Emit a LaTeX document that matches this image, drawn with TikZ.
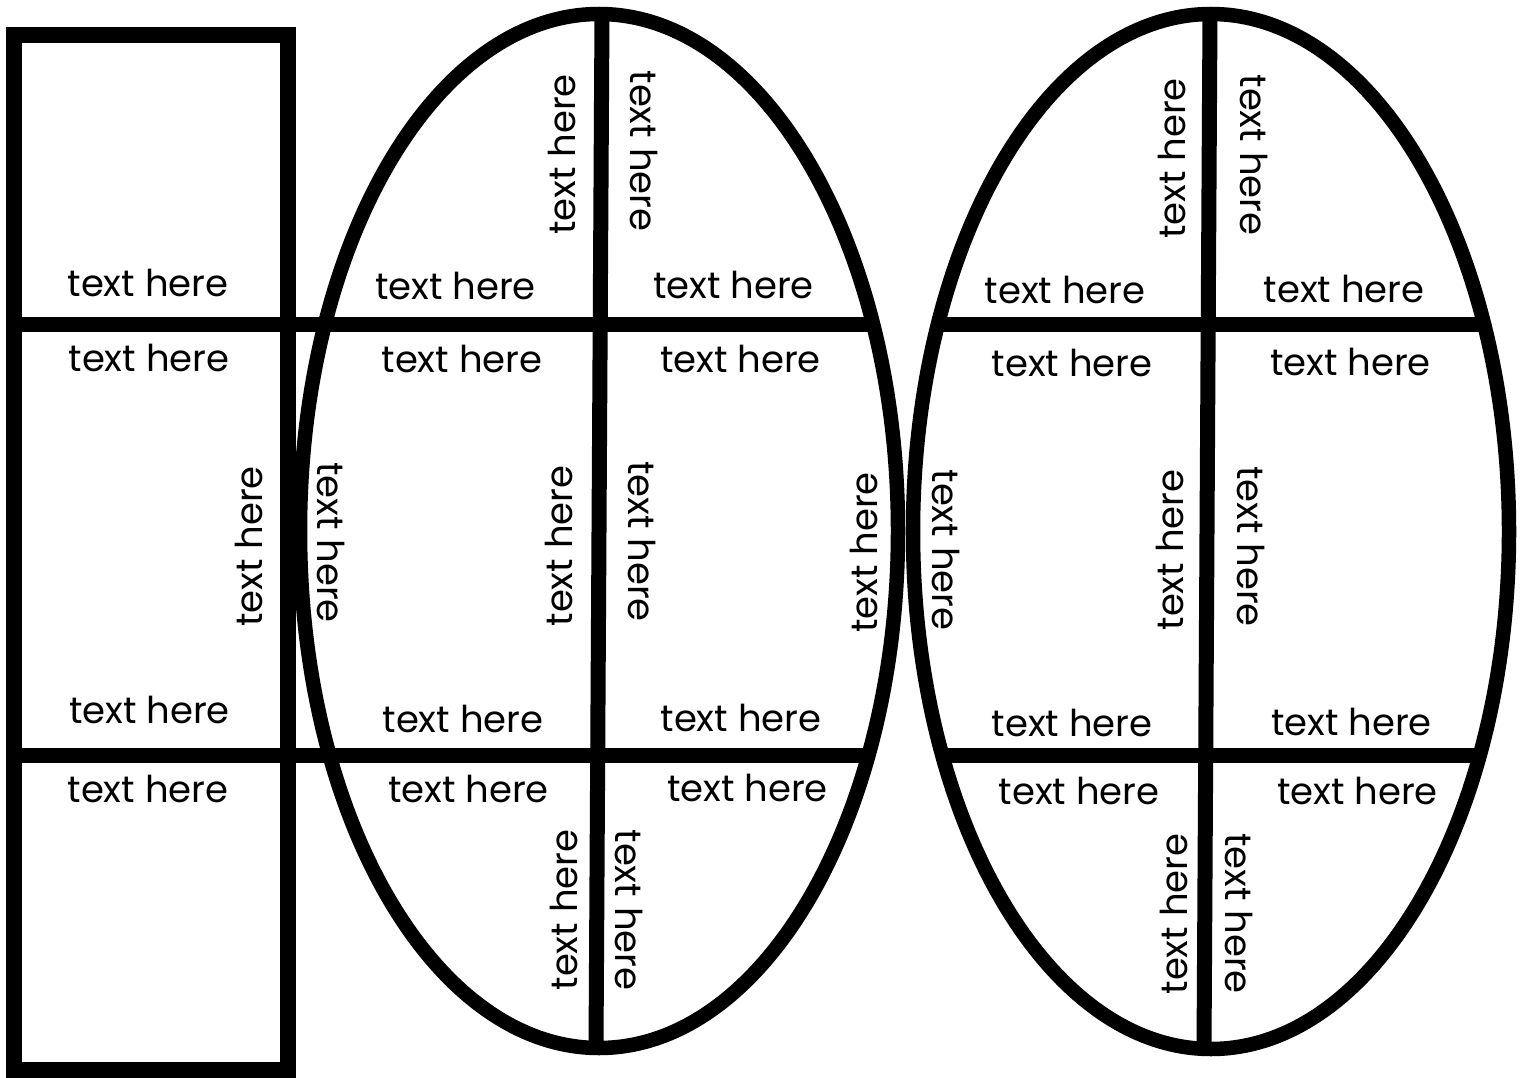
\documentclass[tikz,border=0pt]{standalone}
\usepackage{fontspec}
\setmainfont{Poppins}
\begin{document}
\begin{tikzpicture}[x=1pt,y=-1pt,
  frame/.style={line width=16pt},
  oval/.style={line width=14.5pt},
  bar/.style={line width=15pt},
  lbl/.style={font=\fontsize{37}{40}\selectfont, inner sep=0pt, anchor=base},
  up/.style={lbl, rotate=90},
  down/.style={lbl, rotate=-90}]
\useasboundingbox (0,0) rectangle (1526,1078);
\fill[white] (0,0) rectangle (1526,1078);

% left rectangle
\draw[frame] (14,35.5) rectangle (288,1070);

% dividers shared by rectangle and first oval
\coordinate (ra) at (14,324);
\coordinate (rb) at (14,755.5);
\coordinate (ea) at (873,324);
\coordinate (eb) at (868,755.5);
\draw[bar] (ra) -- (ea);
\draw[bar] (rb) -- (eb);

% first oval
\coordinate (e1t) at (602,14);
\coordinate (e1b) at (596,1048);
\draw[bar] (e1t) -- (e1b);
\draw[oval] (599,531) ellipse [x radius=299pt, y radius=517pt];

% second oval
\coordinate (fa1) at (938,324);
\coordinate (fa2) at (1484,324);
\coordinate (fb1) at (942,755.5);
\coordinate (fb2) at (1480,755.5);
\coordinate (e2t) at (1210,14);
\coordinate (e2b) at (1204,1049);
\draw[bar] (fa1) -- (fa2);
\draw[bar] (fb1) -- (fb2);
\draw[bar] (e2t) -- (e2b);
\draw[oval] (1211,531.5) ellipse [x radius=298pt, y radius=517.5pt];

% rectangle texts
\node[lbl] (t1) at (148,296) {text here};
\node[lbl] (t2) at (149,371) {text here};
\node[up]  (t3) at (262,546.5) {text here};
\node[lbl] (t4) at (149.5,723) {text here};
\node[lbl] (t5) at (148,802) {text here};

% first oval texts
\node[lbl]  (a1) at (455.5,299) {text here};
\node[up]   (a2) at (575,154.5) {text here};
\node[down] (a3) at (630,151) {text here};
\node[lbl]  (a4) at (733.5,298) {text here};
\node[lbl]  (a5) at (462,372) {text here};
\node[down] (a6) at (317,542.5) {text here};
\node[up]   (a7) at (572,546) {text here};
\node[lbl]  (a8) at (463,732) {text here};
\node[lbl]  (a9) at (740.5,372) {text here};
\node[down] (a10) at (628,541.5) {text here};
\node[up]   (a11) at (877,552.5) {text here};
\node[lbl]  (a12) at (741,731) {text here};
\node[lbl]  (a13) at (468.5,802) {text here};
\node[up]   (a14) at (577,910) {text here};
\node[lbl]  (a15) at (747.5,801) {text here};
\node[down] (a16) at (615,910) {text here};

% second oval texts
\node[lbl]  (b1) at (1065,303) {text here};
\node[up]   (b2) at (1185,158.5) {text here};
\node[down] (b3) at (1240,155) {text here};
\node[lbl]  (b4) at (1344,302) {text here};
\node[lbl]  (b5) at (1072,376) {text here};
\node[down] (b6) at (932,550) {text here};
\node[up]   (b7) at (1183,550) {text here};
\node[lbl]  (b8) at (1072,736) {text here};
\node[lbl]  (b9) at (1350.5,375) {text here};
\node[down] (b10) at (1237,546.5) {text here};
\node[lbl]  (b11) at (1351.5,735) {text here};
\node[lbl]  (b12) at (1079,804) {text here};
\node[up]   (b13) at (1187,914) {text here};
\node[lbl]  (b14) at (1357.5,804) {text here};
\node[down] (b15) at (1225,913.5) {text here};
\end{tikzpicture}
\end{document}
